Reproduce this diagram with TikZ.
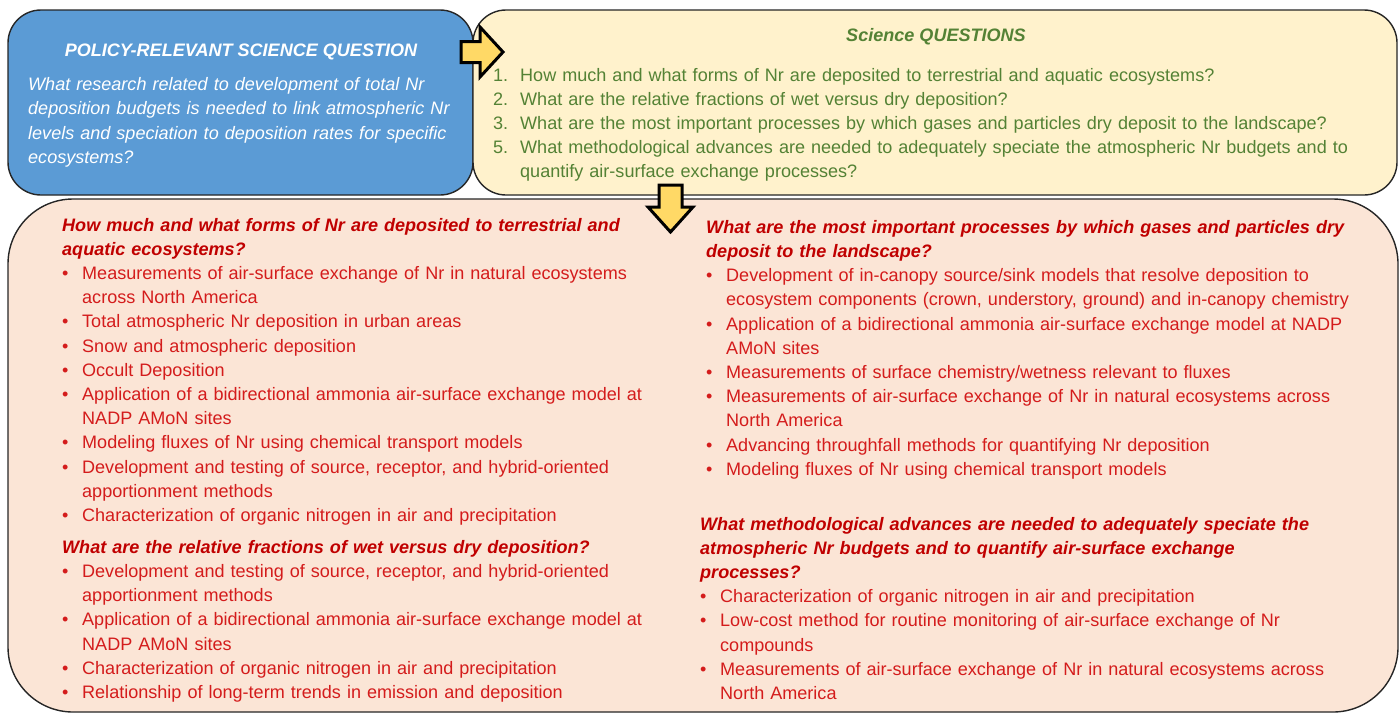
\documentclass[tikz,border=0pt]{standalone}
\usepackage{fontspec}
\setmainfont{Liberation Sans}

\definecolor{policyblue}{HTML}{5B9BD5}
\definecolor{qyellow}{HTML}{FFF2CC}
\definecolor{findpink}{HTML}{FBE5D6}
\definecolor{arrowgold}{HTML}{FFD966}
\definecolor{qgreen}{HTML}{548235}
\definecolor{headred}{HTML}{C00000}
\definecolor{itemred}{HTML}{D41C1C}

\newcommand{\bodysize}{\fontsize{18.05}{24.2}\selectfont}
\newcommand{\bul}{\makebox[20pt][l]{\textbullet}}
\newcommand{\cont}{\hspace*{20pt}}
\newcommand{\qnum}[1]{\makebox[27pt][l]{#1}}
\newcommand{\hd}[1]{{\color{headred}\bfseries\itshape #1}}

\begin{document}
\begin{tikzpicture}[x=1pt,y=-1pt,
    box/.style={draw=black!85, line width=1.4pt},
    bigarrow/.style={draw=black, line width=3pt, line join=miter, fill=arrowgold},
    txt/.style={anchor=base west, inner sep=0pt, align=left, text width=#1, font=\bodysize}]
  \useasboundingbox (0,0) rectangle (1399,713);

  % boxes
  \node[box, fill=policyblue, rounded corners=33pt, minimum width=465pt, minimum height=185pt] (policy) at (240.5,102.5) {};
  \node[box, fill=qyellow, rounded corners=33pt, minimum width=924pt, minimum height=185pt] (questions) at (935,102.5) {};
  \node[box, fill=findpink, rounded corners=65pt, minimum width=1390pt, minimum height=513pt] (findings) at (703,455.5) {};

  % arrows
  \coordinate (toquestions) at (461,52);
  \coordinate (tofindings) at (670.5,185);
  \draw[bigarrow] (toquestions) ++(0,-10.5) -- ++(19,0) -- ++(0,-14.5) -- ++(23,25)
    -- ++(-23,25) -- ++(0,-14.5) -- ++(-19,0) -- cycle;
  \draw[bigarrow] (tofindings) ++(-11.5,0) -- ++(0,22) -- ++(-11,0) -- ++(22.5,25)
    -- ++(22.5,-25) -- ++(-11,0) -- ++(0,-22) -- cycle;

  % policy question
  \node[anchor=base, inner sep=0pt, text=white, font=\bodysize\bfseries\itshape] (policytitle) at (241,56) {POLICY-RELEVANT SCIENCE QUESTION};
  \node[txt=440pt, text=white, font=\bodysize\itshape] (policytext) at (28,90.7)
    {What research related to development of total Nr\\
     deposition budgets is needed to link atmospheric Nr\\
     levels and speciation to deposition rates for specific\\
     ecosystems?};

  % science questions
  \node[anchor=base, inner sep=0pt, text=qgreen, font=\bodysize\bfseries\itshape] (qtitle) at (936,41.7) {Science QUESTIONS};
  \node[txt=880pt, text=qgreen] (qlist) at (493,81)
    {\qnum{1.}How much and what forms of Nr are deposited to terrestrial and aquatic ecosystems?\\
     \qnum{2.}What are the relative fractions of wet versus dry deposition?\\
     \qnum{3.}What are the most important processes by which gases and particles dry deposit to the landscape?\\
     \qnum{5.}What methodological advances are needed to adequately speciate the atmospheric Nr budgets and to\\
     \hspace*{27pt}quantify air-surface exchange processes?};

  % research areas, left
  \node[txt=620pt, text=itemred] (formslist) at (62,231)
    {\hd{How much and what forms of Nr are deposited to terrestrial and}\\
     \hd{aquatic ecosystems?}\\
     \bul Measurements of air-surface exchange of Nr in natural ecosystems\\
     \cont across North America\\
     \bul Total atmospheric Nr deposition in urban areas\\
     \bul Snow and atmospheric deposition\\
     \bul Occult Deposition\\
     \bul Application of a bidirectional ammonia air-surface exchange model at\\
     \cont NADP AMoN sites\\
     \bul Modeling fluxes of Nr using chemical transport models\\
     \bul Development and testing of source, receptor, and hybrid-oriented\\
     \cont apportionment methods\\
     \bul Characterization of organic nitrogen in air and precipitation};
  \node[txt=620pt, text=itemred] (wetdrylist) at (62,553.3)
    {\hd{What are the relative fractions of wet versus dry deposition?}\\
     \bul Development and testing of source, receptor, and hybrid-oriented\\
     \cont apportionment methods\\
     \bul Application of a bidirectional ammonia air-surface exchange model at\\
     \cont NADP AMoN sites\\
     \bul Characterization of organic nitrogen in air and precipitation\\
     \bul Relationship of long-term trends in emission and deposition};

  % research areas, right
  \node[txt=680pt, text=itemred] (processlist) at (706,233.3)
    {\hd{What are the most important processes by which gases and particles dry}\\
     \hd{deposit to the landscape?}\\
     \bul Development of in-canopy source/sink models that resolve deposition to\\
     \cont ecosystem components (crown, understory, ground) and in-canopy chemistry\\
     \bul Application of a bidirectional ammonia air-surface exchange model at NADP\\
     \cont AMoN sites\\
     \bul Measurements of surface chemistry/wetness relevant to fluxes\\
     \bul Measurements of air-surface exchange of Nr in natural ecosystems across\\
     \cont North America\\
     \bul Advancing throughfall methods for quantifying Nr deposition\\
     \bul Modeling fluxes of Nr using chemical transport models};
  \node[txt=680pt, text=itemred] (methodlist) at (700,530)
    {\hd{What methodological advances are needed to adequately speciate the}\\
     \hd{atmospheric Nr budgets and to quantify air-surface exchange}\\
     \hd{processes?}\\
     \bul Characterization of organic nitrogen in air and precipitation\\
     \bul Low-cost method for routine monitoring of air-surface exchange of Nr\\
     \cont compounds\\
     \bul Measurements of air-surface exchange of Nr in natural ecosystems across\\
     \cont North America};
\end{tikzpicture}
\end{document}
